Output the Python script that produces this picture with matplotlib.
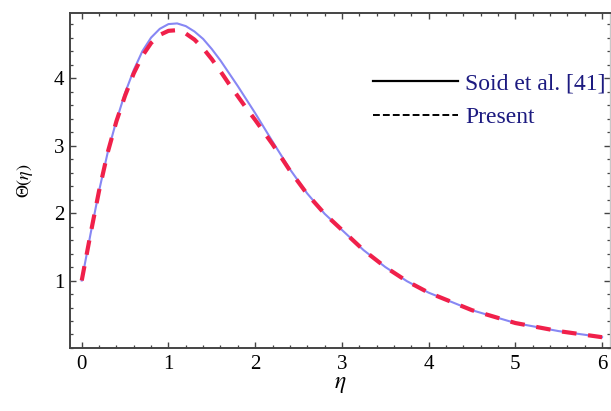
import matplotlib
matplotlib.use("Agg")
import matplotlib.pyplot as plt
from matplotlib.lines import Line2D
from matplotlib.ticker import MultipleLocator

plt.rcParams['font.family'] = ['Liberation Serif', 'DejaVu Serif']
plt.rcParams['mathtext.fontset'] = 'stix'

# temperature profile Theta(eta)
eta = [0.0, 0.1, 0.2, 0.3, 0.4, 0.5, 0.6, 0.7, 0.8, 0.9, 1.0, 1.1, 1.2, 1.3,
       1.4, 1.5, 1.6, 1.7, 1.8, 1.9, 2.0, 2.2, 2.4, 2.6, 2.8, 3.0, 3.25, 3.5,
       3.75, 4.0, 4.5, 5.0, 5.5, 6.0]
theta_soid = [1.00, 1.68, 2.33, 2.90, 3.37, 3.78, 4.12, 4.40, 4.60, 4.73, 4.80,
              4.81, 4.77, 4.69, 4.58, 4.43, 4.26, 4.07, 3.88, 3.68, 3.48, 3.06,
              2.65, 2.29, 1.99, 1.75, 1.45, 1.20, 0.99, 0.82, 0.56, 0.37, 0.25,
              0.16]
theta_present = [1.00, 1.68, 2.33, 2.90, 3.36, 3.74, 4.07, 4.33, 4.52, 4.64,
                 4.70, 4.71, 4.66, 4.57, 4.44, 4.28, 4.10, 3.91, 3.73, 3.55,
                 3.38, 3.02, 2.63, 2.28, 1.99, 1.75, 1.45, 1.20, 0.99, 0.82,
                 0.56, 0.37, 0.25, 0.16]

fig = plt.figure(figsize=(6.11, 4.11), dpi=100)
ax = fig.add_axes([0.1146, 0.1533, 0.884, 0.816])

ax.plot(eta, theta_soid, color='#8787f4', linewidth=1.5)
ax.plot(eta, theta_present, color='#f0204a', linewidth=3.0,
        linestyle=(0, (3.5, 2.8)))

ax.set_xlim(-0.135, 6.093)
ax.set_ylim(0.0, 4.97)
ax.xaxis.set_major_locator(MultipleLocator(1))
ax.xaxis.set_minor_locator(MultipleLocator(0.2))
ax.set_yticks([1, 2, 3, 4])
ax.yaxis.set_minor_locator(MultipleLocator(0.2))

ax.tick_params(which='both', direction='in', top=True, right=True,
               color='#444444', labelsize=15, pad=5)
ax.tick_params(which='major', length=4.5, width=1.0)
ax.tick_params(which='minor', length=2.5, width=0.9)
ax.tick_params(axis='y', pad=4)
for side in ['left', 'bottom', 'top']:
    ax.spines[side].set_color('#444444')
    ax.spines[side].set_linewidth(1.4)
ax.spines['right'].set_color('#c8c8c8')
ax.spines['right'].set_linewidth(1.0)

ax.set_xlabel(r'$\eta$', fontsize=17, labelpad=0)
ax.set_ylabel(r'$\Theta(\eta)$', fontsize=13, labelpad=14)

# legend with black key lines
handles = [Line2D([], [], color='black', linewidth=1.6),
           Line2D([], [], color='black', linewidth=1.4, linestyle=(0, (3.5, 1.6)))]
leg = ax.legend(handles, ['Soid et al. [41]', 'Present'], loc='center left',
                bbox_to_anchor=(0.561, 0.738), frameon=False, fontsize=17,
                handlelength=3.6, handletextpad=0.3, labelspacing=0.5,
                borderpad=0, borderaxespad=0)
for t in leg.get_texts():
    t.set_color('#1c1a80')

fig.savefig('out.png', dpi=100)
